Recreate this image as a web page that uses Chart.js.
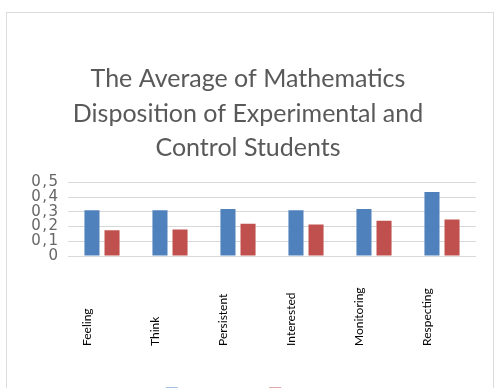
<!DOCTYPE html>
<html>
<head>
<meta charset="utf-8">
<script src="https://cdn.jsdelivr.net/npm/chart.js@4.4.0/dist/chart.umd.min.js"></script>
<style>
  html, body { margin: 0; padding: 0; background: #fff; overflow: hidden; width: 496px; height: 388px; }
  #above { position: absolute; left: -8px; top: -25px; font: 22px "Liberation Serif", serif; color: #111; white-space: nowrap; }
  #box { position: absolute; left: 6px; top: 12px; width: 486px; height: 420px; border: 1.5px solid #dcdcdc; }
  #wrap { position: absolute; left: 0; top: 0; width: 496px; height: 410px; }
</style>
</head>
<body>
<div id="above">the average of each group is shown in the graph in figure 4.</div>
<div id="box"></div>
<div id="wrap"><canvas id="myChart"></canvas></div>
<script>
var categories = ["Feeling", "Think", "Persistent", "Interested", "Monitoring", "Respecting"];
var experimental = [0.312, 0.312, 0.32, 0.312, 0.32, 0.435];
var control = [0.176, 0.18, 0.22, 0.215, 0.24, 0.248];
var yTicks = [0, 0.1, 0.2, 0.3, 0.4, 0.5];

// rotated category labels, drawn bottom-aligned like the original
var sideLabels = {
    id: 'sideLabels',
    afterDraw(chart) {
        const c = chart.ctx;
        const xs = chart.scales.x;
        c.save();
        c.font = '12px Lato, sans-serif';
        c.fillStyle = '#000';
        c.textAlign = 'left';
        c.textBaseline = 'middle';
        categories.forEach(function (name, i) {
            c.save();
            c.translate(xs.getPixelForValue(i) - 15, 346);
            c.rotate(-Math.PI / 2);
            c.fillText(name, 0, 0);
            c.restore();
        });
        c.restore();
    }
};

const ctx = document.getElementById('myChart');

new Chart(ctx, {
    type: 'bar',
    data: {
        labels: categories,
        datasets: [
            {
                label: 'Experimental',
                data: experimental,
                backgroundColor: "#4f81bd",
                barPercentage: 0.75,
                categoryPercentage: 0.59
            },
            {
                label: 'Control',
                data: control,
                backgroundColor: "#c0504d",
                barPercentage: 0.75,
                categoryPercentage: 0.59
            }
        ]
    },
    plugins: [sideLabels],
    options: {
        responsive: true,
        maintainAspectRatio: false,
        animation: false,
        layout: { padding: { left: 20, right: 20, top: 0, bottom: 0 } },
        plugins: {
            title: {
                display: true,
                text: ["The Average of Mathematics", "Disposition of Experimental and", "Control Students"],
                color: '#595959',
                font: { family: 'Lato, sans-serif', size: 25, weight: 'normal', lineHeight: 1.38 },
                padding: { top: 62, bottom: 17 }
            },
            legend: {
                position: 'bottom',
                labels: { color: '#595959', font: { family: 'Lato', size: 13 }, boxWidth: 12, boxHeight: 12 }
            },
            tooltip: { enabled: false }
        },
        scales: {
            x: {
                grid: { display: false },
                border: { display: false },
                ticks: { display: false },
                afterFit(axis) { axis.height = 121; }
            },
            y: {
                min: 0,
                max: 0.5,
                afterBuildTicks(axis) { axis.ticks = yTicks.map(function (v) { return { value: v }; }); },
                grid: { color: '#d9d9d9', drawTicks: false },
                border: { display: false },
                ticks: {
                    autoSkip: false,
                    color: '#666666',
                    padding: 10,
                    font: { family: 'DejaVu Sans', size: 15 },
                    callback: function (v) { return v === 0 ? '0' : v.toFixed(1).replace('.', '\u200A,\u200A'); }
                },
                afterFit(axis) { axis.width = 48; }
            }
        }
    }
});
</script>
</body>
</html>
